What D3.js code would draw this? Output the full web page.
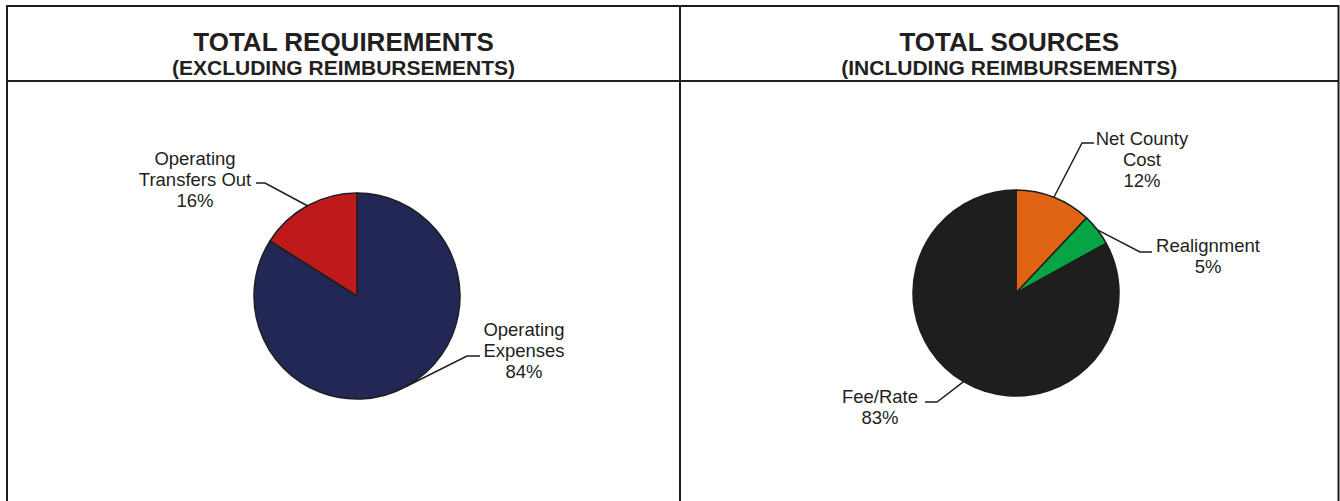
<!DOCTYPE html>
<html><head><meta charset="utf-8">
<script src="https://cdn.jsdelivr.net/npm/d3@7"></script>
<style>
html,body{margin:0;padding:0;background:#fff;}
svg{display:block;}
text{font-family:"Liberation Sans",Arial,sans-serif;fill:#231f20;}
</style></head>
<body>
<svg id="chart" width="1340" height="501"></svg>
<script>
// ---- data ----
const leftTitle = ["TOTAL REQUIREMENTS", "(EXCLUDING REIMBURSEMENTS)"];
const leftCategories = ["Operating Expenses", "Operating Transfers Out"];
const leftValues = [84, 16];
const leftLabels = [["Operating", "Expenses", "84%"], ["Operating", "Transfers Out", "16%"]];

const rightTitle = ["TOTAL SOURCES", "(INCLUDING REIMBURSEMENTS)"];
const rightCategories = ["Net County Cost", "Realignment", "Fee/Rate"];
const rightValues = [12, 5, 83];
const rightLabels = [["Net County", "Cost", "12%"], ["Realignment", "5%"], ["Fee/Rate", "83%"]];

// ---- styling / layout ----
const leftColors = ["#232755", "#be1a1c"];
const rightColors = ["#df6414", "#07a445", "#1e1e1e"];
const stroke = "#1e1e1e";

const svg = d3.select("#chart");

// frame
const frame = {x0: 7, x1: 1338.5, y0: 6, yRule: 81, xMid: 680, y1: 501};
const g0 = svg.append("g").attr("stroke", stroke).attr("stroke-width", 2).attr("fill", "none");
g0.append("path").attr("d", `M${frame.x0},${frame.y1}V${frame.y0}H${frame.x1}V${frame.y1}`);
g0.append("line").attr("x1", frame.x0).attr("x2", frame.x1).attr("y1", frame.yRule).attr("y2", frame.yRule);
g0.append("line").attr("x1", frame.xMid).attr("x2", frame.xMid).attr("y1", frame.y0).attr("y2", frame.y1);

function titles(lines, cx) {
  svg.append("text").attr("x", cx).attr("y", 51).attr("text-anchor", "middle")
    .style("font-weight", "bold").style("font-size", "26px").text(lines[0]);
  svg.append("text").attr("x", cx).attr("y", 75).attr("text-anchor", "middle")
    .style("font-weight", "bold").style("font-size", "21px").text(lines[1]);
}
titles(leftTitle, (frame.x0 + frame.xMid) / 2);
titles(rightTitle, (frame.xMid + frame.x1) / 2);

// label layout: elbow point, end point, text centre x, first baseline
const leftLayout = [
  {elbow: [467, 356], end: [480, 356], tx: 524, ty: 336},
  {elbow: [265, 183], end: [256, 183], tx: 195, ty: 165}
];
const rightLayout = [
  {elbow: [1082, 143], end: [1094, 143], tx: 1142, ty: 145},
  {elbow: [1140, 252], end: [1152, 252], tx: 1208, ty: 252},
  {elbow: [937, 402], end: [925, 402], tx: 880, ty: 403}
];

function drawPie(cx, cy, r, values, colors, labels, layout) {
  const pie = d3.pie().sort(null).value(d => d);
  const arcs = pie(values);
  const arc = d3.arc().innerRadius(0).outerRadius(r);
  const g = svg.append("g").attr("transform", `translate(${cx},${cy})`);
  g.selectAll("path").data(arcs).join("path")
    .attr("d", arc).attr("fill", (d, i) => colors[i])
    .attr("stroke", stroke).attr("stroke-width", 1.5).attr("stroke-linejoin", "round");

  arcs.forEach((a, i) => {
    const mid = (a.startAngle + a.endAngle) / 2;
    const px = cx + r * Math.sin(mid), py = cy - r * Math.cos(mid);
    const L = layout[i];
    svg.append("polyline")
      .attr("points", `${px},${py} ${L.elbow[0]},${L.elbow[1]} ${L.end[0]},${L.end[1]}`)
      .attr("fill", "none").attr("stroke", stroke).attr("stroke-width", 1.5);
    const t = svg.append("text").attr("text-anchor", "middle").style("font-size", "18.5px");
    labels[i].forEach((s, k) => {
      t.append("tspan").attr("x", L.tx).attr("y", L.ty + k * 21).text(s);
    });
  });
}

drawPie(357, 296, 103, leftValues, leftColors, leftLabels, leftLayout);
drawPie(1016, 293, 103, rightValues, rightColors, rightLabels, rightLayout);
</script>
</body></html>
